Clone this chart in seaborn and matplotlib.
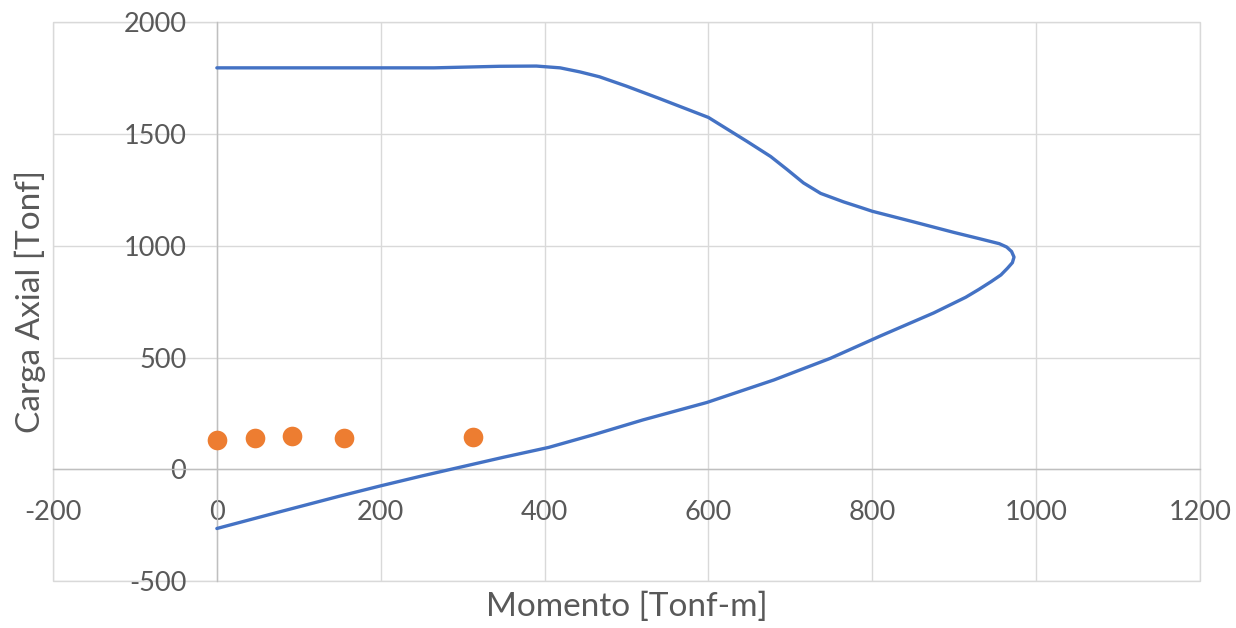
import matplotlib
matplotlib.use("Agg")
import matplotlib.pyplot as plt
import seaborn as sns
import pandas as pd

# Interaction diagram (axial load vs. moment), traced from the top branch
# down around the nose and back along the lower branch
momento = [0, 150, 265, 345, 390, 419, 443, 467, 500, 540, 600, 647, 676, 696,
           716, 737, 765, 786, 800, 850, 900, 930, 955, 964, 970, 973, 971, 965,
           957, 945, 930, 914, 875, 810, 749, 680, 598, 520, 460, 405, 350, 300,
           250, 200, 150, 75, 0]
carga = [1797, 1797, 1797, 1804, 1805, 1797, 1779, 1757, 1715, 1660, 1575, 1468,
         1400, 1342, 1282, 1235, 1197, 1172, 1155, 1108, 1060, 1033, 1010, 995,
         975, 950, 925, 900, 870, 840, 805, 770, 700, 597, 497, 400, 299, 221,
         155, 98, 54, 12, -30, -74, -120, -192, -265]

# Load cases (moment, axial load)
caso_m = [0, 46, 92, 155, 313]
caso_p = [130, 138, 147, 138, 143]

x_ticks = [-200, 0, 200, 400, 600, 800, 1000, 1200]
y_ticks = [-500, 0, 500, 1000, 1500, 2000]

curve = pd.DataFrame({"Momento": momento, "Carga": carga})
cases = pd.DataFrame({"Momento": caso_m, "Carga": caso_p})

sns.set_theme(style="white")
plt.rcParams["font.family"] = ["Lato", "DejaVu Sans"]
plt.rcParams["axes.unicode_minus"] = False

text_color = "#595959"
grid_color = "#D9D9D9"

fig = plt.figure(figsize=(12.36, 6.28), dpi=100)
ax = fig.add_axes([53 / 1236, 1 - 581 / 628, 1147 / 1236, 558.5 / 628])

sns.lineplot(data=curve, x="Momento", y="Carga", sort=False, estimator=None,
             color="#4472C4", linewidth=2.4, ax=ax, zorder=3,
             solid_joinstyle="round", solid_capstyle="round")
sns.scatterplot(data=cases, x="Momento", y="Carga", color="#ED7D31", s=200,
                linewidth=0, ax=ax, zorder=4)

ax.set_xlim(-200, 1200)
ax.set_ylim(-500, 2000)
ax.set_xticks(x_ticks)
ax.set_yticks(y_ticks)
ax.set_xticklabels([str(v) for v in x_ticks])
ax.set_yticklabels([str(v) for v in y_ticks])

ax.grid(True, color=grid_color, linewidth=1.0)
ax.set_axisbelow(True)
ax.patch.set_edgecolor(grid_color)
ax.patch.set_linewidth(1.0)

# Axes cross at the origin
for side in ("top", "right"):
    ax.spines[side].set_visible(False)
ax.spines["left"].set_position(("data", 0))
ax.spines["bottom"].set_position(("data", 0))
for side in ("left", "bottom"):
    ax.spines[side].set_color("#BFBFBF")
    ax.spines[side].set_linewidth(1.0)
    ax.spines[side].set_zorder(1)

ax.tick_params(axis="both", length=0, labelsize=19.5, labelcolor=text_color)
ax.tick_params(axis="y", pad=22)
ax.tick_params(axis="x", pad=22)

ax.set_xlabel("Momento [Tonf-m]", fontsize=24, color=text_color)
ax.set_ylabel("Carga Axial [Tonf]", fontsize=24, color=text_color)
ax.xaxis.label.set_va("center")
ax.yaxis.label.set_va("center")
ax.yaxis.label.set_ha("center")
ax.xaxis.set_label_coords(0.5, -(607 - 581) / 558.5)
ax.yaxis.set_label_coords(-(53 - 30) / 1147, 0.5)

fig.savefig("out.png", dpi=100, facecolor="white")
